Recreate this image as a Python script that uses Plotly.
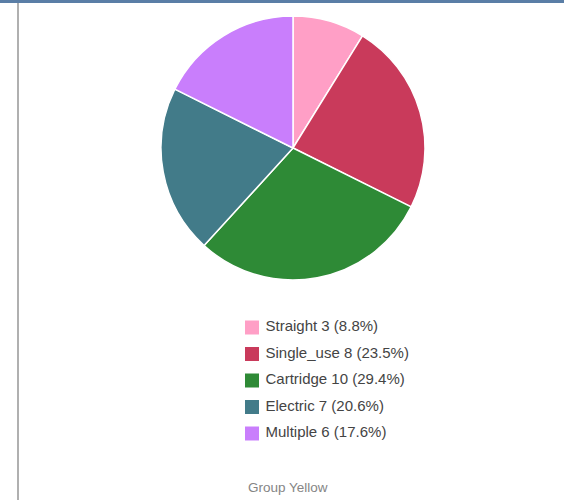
import plotly.graph_objects as go

categories = ["Straight", "Single_use", "Cartridge", "Electric", "Multiple"]
values = [3, 8, 10, 7, 6]
colors = ["#ff9fc6", "#c93a5b", "#2e8a36", "#427b89", "#c97efc"]
group_title = "Group Yellow"

total = sum(values)
labels = [f"{c} {v} ({v / total * 100:.1f}%)" for c, v in zip(categories, values)]

W, H = 564, 500
cx, cy, r = 293, 148, 132

fig = go.Figure()
fig.add_trace(go.Pie(
    labels=categories, values=values, sort=False, direction="clockwise", rotation=0,
    marker=dict(colors=colors, line=dict(color="white", width=1.5)),
    textinfo="none", hoverinfo="none", showlegend=False,
    domain=dict(x=[(cx - r) / W, (cx + r) / W], y=[1 - (cy + r) / H, 1 - (cy - r) / H]),
))

# legend drawn as a scatter of squares + labels
idx = list(range(len(categories)))
fig.add_trace(go.Scatter(
    x=[0] * len(categories), y=idx, mode="markers",
    marker=dict(symbol="square", size=14, color=colors),
    hoverinfo="skip", showlegend=False, cliponaxis=False,
))
fig.add_trace(go.Scatter(
    x=[0] * len(categories), y=idx, mode="markers+text",
    marker=dict(symbol="square", size=20, opacity=0),
    text=labels, textposition="middle right",
    textfont=dict(family="Liberation Sans, Arial", size=15, color="#444444"),
    hoverinfo="skip", showlegend=False, cliponaxis=False,
))

lx, ly0, lstep = 252, 327.5, 26.5
fig.update_layout(
    width=W, height=H, margin=dict(l=0, r=0, t=0, b=0),
    paper_bgcolor="white", plot_bgcolor="rgba(0,0,0,0)",
    xaxis=dict(domain=[0, 1], range=[-lx, W - lx], visible=False, fixedrange=True),
    yaxis=dict(domain=[0, 1], range=[(H - ly0) / lstep, -ly0 / lstep], visible=False, fixedrange=True),
    shapes=[
        dict(type="rect", xref="paper", yref="paper", x0=0, x1=1, y0=1 - 3 / H, y1=1,
             fillcolor="#5a7ea6", line=dict(width=0), layer="above"),
        dict(type="rect", xref="paper", yref="paper", x0=17 / W, x1=19 / W, y0=0, y1=1 - 3 / H,
             fillcolor="#b0b0b0", line=dict(width=0), layer="above"),
    ],
    annotations=[dict(text=group_title, xref="paper", yref="paper", x=288 / W, y=1 - 487 / H,
                      xanchor="center", yanchor="middle", showarrow=False,
                      font=dict(family="Liberation Sans, Arial", size=13.5, color="#858585"))],
)
fig.write_html("out.html", config={"displayModeBar": False},
               post_script="document.body.style.margin='0';")
